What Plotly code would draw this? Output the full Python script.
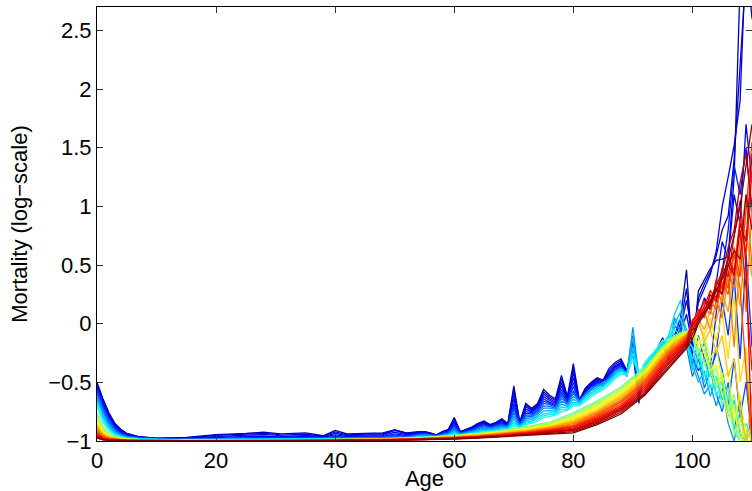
import plotly.graph_objects as go

# ---------------- data ----------------
AGES_J = [0, 1, 2, 3, 4, 5, 7, 10, 15, 20, 25, 28, 30, 31, 35, 38, 40, 42, 45, 48, 50, 52] + list(range(54, 111))
AGES_S = [0, 1, 2, 3, 4, 5, 7, 10, 15, 20, 30, 40, 50, 55, 60, 64, 68, 72, 76, 80,
          84, 88, 92, 95, 97, 99, 100, 101, 102, 103, 104, 105, 106, 107, 108, 109, 110]

# early (jagged) curves, blue -> cyan
B1 = [-0.50, -0.64, -0.76, -0.85, -0.90, -0.935, -0.962, -0.976, -0.970, -0.945, -0.935, -0.925, -0.935, -0.94, -0.93, -0.955, -0.91, -0.94, -0.935, -0.93, -0.905, -0.93,
      -0.92, -0.92, -0.93, -0.95, -0.92, -0.90, -0.80, -0.92, -0.90, -0.88,
      -0.85, -0.83, -0.86, -0.84, -0.81, -0.85, -0.53, -0.84, -0.68, -0.72,
      -0.68, -0.56, -0.61, -0.64, -0.44, -0.62, -0.34, -0.65, -0.55, -0.50,
      -0.46, -0.48, -0.38, -0.33, -0.30, -0.40, -0.15, -0.66, -0.38, -0.30,
      -0.22, -0.12, -0.25, -0.10, 0.05, 0.46, -0.26, 0.28, 0.38, 0.47,
      0.54, 0.55, 0.57, 1.25, 2.9, 3.4, 3.2]
B1b = [-0.51, -0.65, -0.77, -0.855, -0.905, -0.938, -0.964, -0.977, -0.973, -0.952, -0.942, -0.935, -0.942, -0.95, -0.942, -0.958, -0.922, -0.948, -0.942, -0.938, -0.905, -0.935,
       -0.925, -0.922, -0.932, -0.95, -0.922, -0.905, -0.81, -0.922, -0.902, -0.885,
       -0.855, -0.838, -0.865, -0.845, -0.818, -0.855, -0.56, -0.845, -0.695, -0.73,
       -0.69, -0.58, -0.625, -0.655, -0.47, -0.63, -0.38, -0.655, -0.56, -0.51,
       -0.47, -0.49, -0.40, -0.345, -0.315, -0.41, -0.12, -0.62, -0.39, -0.31,
       -0.235, -0.14, -0.26, -0.11, 0.00, 0.30, -0.20, 0.22, 0.34, 0.44,
       0.58, 0.80, 0.92, 1.40, 2.3, 3.0, 2.8]
B2 = [-0.52, -0.66, -0.78, -0.86, -0.91, -0.94, -0.966, -0.978, -0.975, -0.960, -0.950, -0.945, -0.950, -0.96, -0.955, -0.96, -0.935, -0.955, -0.95, -0.945, -0.91, -0.94,
      -0.93, -0.925, -0.935, -0.95, -0.925, -0.91, -0.83, -0.925, -0.905, -0.89,
      -0.86, -0.845, -0.87, -0.85, -0.825, -0.86, -0.60, -0.85, -0.71, -0.74,
      -0.70, -0.60, -0.64, -0.67, -0.50, -0.64, -0.42, -0.66, -0.57, -0.52,
      -0.48, -0.50, -0.42, -0.36, -0.33, -0.42, -0.20, -0.55, -0.40, -0.32,
      -0.25, -0.16, -0.28, -0.12, -0.05, 0.20, -0.10, 0.18, 0.30, 0.42,
      0.62, 1.00, 1.25, 1.52, 1.90, 3.2, 2.6]
B2b = [-0.535, -0.675, -0.79, -0.87, -0.918, -0.945, -0.968, -0.979, -0.979, -0.968, -0.961, -0.958, -0.961, -0.966, -0.962, -0.966, -0.948, -0.962, -0.958, -0.954, -0.925, -0.948,
       -0.935, -0.93, -0.94, -0.952, -0.93, -0.915, -0.845, -0.928, -0.91, -0.895,
       -0.868, -0.852, -0.875, -0.858, -0.835, -0.865, -0.64, -0.855, -0.73, -0.75,
       -0.71, -0.62, -0.655, -0.68, -0.53, -0.65, -0.46, -0.665, -0.58, -0.53,
       -0.49, -0.51, -0.43, -0.37, -0.34, -0.425, -0.22, -0.62, -0.38, -0.31,
       -0.255, -0.17, -0.29, -0.13, -0.08, 0.08, -0.18, 0.05, 0.22, 0.12,
       0.35, 0.70, 0.55, 1.10, 0.85, 1.70, 1.20]
B3 = [-0.55, -0.69, -0.80, -0.88, -0.925, -0.95, -0.97, -0.98, -0.982, -0.975, -0.972, -0.97, -0.972, -0.972, -0.97, -0.972, -0.96, -0.968, -0.965, -0.962, -0.94, -0.955,
      -0.94, -0.935, -0.945, -0.955, -0.935, -0.92, -0.86, -0.93, -0.915, -0.90,
      -0.875, -0.86, -0.88, -0.865, -0.845, -0.87, -0.68, -0.86, -0.75, -0.76,
      -0.72, -0.64, -0.67, -0.69, -0.56, -0.66, -0.50, -0.67, -0.59, -0.54,
      -0.50, -0.52, -0.44, -0.38, -0.35, -0.43, -0.25, -0.68, -0.36, -0.30,
      -0.26, -0.18, -0.30, -0.15, -0.10, -0.05, -0.28, -0.40, -0.30, -0.38,
      0.10, 0.45, 0.80, 1.35, 1.10, 1.50, 0.90]
B3b = [-0.565, -0.705, -0.815, -0.89, -0.932, -0.955, -0.972, -0.981, -0.983, -0.978, -0.976, -0.974, -0.975, -0.975, -0.973, -0.974, -0.965, -0.971, -0.968, -0.966, -0.95, -0.96,
       -0.942, -0.938, -0.948, -0.956, -0.938, -0.925, -0.87, -0.932, -0.918, -0.905,
       -0.88, -0.865, -0.882, -0.87, -0.852, -0.872, -0.71, -0.862, -0.765, -0.77,
       -0.735, -0.66, -0.68, -0.70, -0.585, -0.67, -0.535, -0.665, -0.60, -0.55,
       -0.51, -0.525, -0.45, -0.39, -0.36, -0.44, -0.20, -0.50, -0.37, -0.31,
       -0.26, -0.19, -0.29, -0.14, -0.09, -0.10, -0.22, -0.30, -0.15, -0.40,
       -0.25, 0.20, -0.10, 0.40, -0.30, 0.60, -0.20]
B4 = [-0.58, -0.72, -0.83, -0.90, -0.94, -0.96, -0.975, -0.983, -0.985, -0.982, -0.98, -0.978, -0.978, -0.978, -0.976, -0.976, -0.97, -0.974, -0.972, -0.97, -0.958, -0.965,
      -0.945, -0.94, -0.95, -0.958, -0.94, -0.93, -0.88, -0.935, -0.92, -0.91,
      -0.885, -0.87, -0.885, -0.875, -0.86, -0.875, -0.73, -0.865, -0.78, -0.78,
      -0.745, -0.68, -0.69, -0.71, -0.61, -0.68, -0.57, -0.66, -0.61, -0.56,
      -0.52, -0.53, -0.46, -0.40, -0.37, -0.45, -0.18, -0.58, -0.38, -0.32,
      -0.27, -0.20, -0.28, -0.12, -0.08, -0.15, -0.35, -0.10, -0.30, -0.45,
      -0.20, -0.40, -0.70, -0.30, -0.80, -0.50, -1.00]
LB2 = [-0.60, -0.74, -0.845, -0.91, -0.945, -0.963, -0.977, -0.984, -0.986, -0.984, -0.982, -0.98, -0.98, -0.98, -0.979, -0.978, -0.974, -0.977, -0.975, -0.973, -0.964, -0.968,
       -0.95, -0.945, -0.952, -0.959, -0.945, -0.935, -0.895, -0.938, -0.925, -0.915,
       -0.895, -0.88, -0.89, -0.882, -0.868, -0.878, -0.76, -0.868, -0.795, -0.79,
       -0.758, -0.70, -0.705, -0.72, -0.635, -0.685, -0.595, -0.66, -0.605, -0.555,
       -0.525, -0.515, -0.465, -0.405, -0.375, -0.435, -0.10, -0.52, -0.365, -0.30,
       -0.245, -0.17, -0.25, -0.02, -0.05, -0.20, -0.45, -0.30, -0.55, -0.40,
       -0.60, -0.75, -0.50, -0.90, -0.65, -1.00, -0.80]
LB = [-0.62, -0.76, -0.86, -0.92, -0.95, -0.967, -0.978, -0.985, -0.987, -0.985, -0.984, -0.983, -0.983, -0.983, -0.982, -0.981, -0.978, -0.98, -0.978, -0.976, -0.97, -0.972,
      -0.955, -0.95, -0.955, -0.96, -0.95, -0.94, -0.91, -0.94, -0.93, -0.92,
      -0.905, -0.89, -0.895, -0.89, -0.875, -0.88, -0.79, -0.87, -0.81, -0.80,
      -0.77, -0.72, -0.72, -0.73, -0.66, -0.69, -0.62, -0.66, -0.60, -0.55,
      -0.53, -0.50, -0.47, -0.41, -0.38, -0.42, -0.03, -0.46, -0.35, -0.28,
      -0.22, -0.14, -0.22, 0.05, -0.08, -0.12, -0.30, -0.45, -0.60, -0.52,
      -0.70, -0.55, -0.85, -1.00, -0.75, -1.00, -1.00]
C1b = [-0.64, -0.78, -0.875, -0.93, -0.955, -0.97, -0.98, -0.986, -0.988, -0.987, -0.986, -0.985, -0.985, -0.985, -0.984, -0.983, -0.981, -0.982, -0.98, -0.979, -0.974, -0.975,
       -0.958, -0.955, -0.958, -0.962, -0.954, -0.945, -0.92, -0.944, -0.935, -0.925,
       -0.912, -0.90, -0.902, -0.898, -0.885, -0.888, -0.815, -0.875, -0.825, -0.815,
       -0.785, -0.745, -0.74, -0.745, -0.685, -0.705, -0.645, -0.67, -0.615, -0.57,
       -0.545, -0.515, -0.48, -0.425, -0.39, -0.425, -0.12, -0.45, -0.355, -0.29,
       -0.225, -0.16, -0.16, 0.00, 0.10, -0.05, -0.35, -0.50, -0.40, -0.62,
       -0.45, -0.65, -0.55, -0.90, -0.80, -1.00, -1.00]
C1 = [-0.66, -0.80, -0.89, -0.94, -0.96, -0.973, -0.982, -0.987, -0.989, -0.988, -0.987, -0.986, -0.986, -0.986, -0.985, -0.985, -0.983, -0.984, -0.982, -0.981, -0.977, -0.978,
      -0.962, -0.96, -0.962, -0.965, -0.958, -0.95, -0.93, -0.948, -0.94, -0.93,
      -0.92, -0.91, -0.91, -0.905, -0.895, -0.895, -0.84, -0.88, -0.84, -0.83,
      -0.80, -0.77, -0.76, -0.76, -0.71, -0.72, -0.67, -0.68, -0.63, -0.59,
      -0.56, -0.53, -0.49, -0.44, -0.40, -0.43, -0.20, -0.46, -0.36, -0.30,
      -0.23, -0.18, -0.10, 0.08, 0.20, -0.15, -0.40, -0.25, -0.50, -0.35,
      -0.55, -0.48, -0.80, -0.65, -0.95, -1.00, -0.90]
C2b = [-0.68, -0.82, -0.90, -0.945, -0.964, -0.976, -0.984, -0.988, -0.99, -0.989, -0.988, -0.988, -0.988, -0.988, -0.987, -0.987, -0.985, -0.986, -0.984, -0.983, -0.98, -0.98,
       -0.965, -0.963, -0.964, -0.967, -0.96, -0.954, -0.938, -0.952, -0.944, -0.935,
       -0.926, -0.918, -0.916, -0.91, -0.901, -0.90, -0.855, -0.885, -0.85, -0.84,
       -0.815, -0.785, -0.775, -0.77, -0.73, -0.73, -0.685, -0.69, -0.645, -0.605,
       -0.575, -0.545, -0.505, -0.455, -0.415, -0.435, -0.25, -0.45, -0.345, -0.285,
       -0.225, -0.155, -0.12, -0.02, 0.05, -0.18, -0.30, -0.20, -0.45, -0.35,
       -0.62, -0.50, -0.75, -0.70, -1.00, -0.90, -1.00]
C2 = [-0.70, -0.84, -0.91, -0.95, -0.968, -0.978, -0.985, -0.989, -0.99, -0.99, -0.989, -0.989, -0.989, -0.989, -0.988, -0.988, -0.987, -0.987, -0.986, -0.985, -0.982, -0.982,
      -0.968, -0.966, -0.966, -0.968, -0.963, -0.958, -0.945, -0.955, -0.948, -0.94,
      -0.932, -0.925, -0.922, -0.915, -0.907, -0.905, -0.87, -0.89, -0.86, -0.85,
      -0.83, -0.80, -0.79, -0.78, -0.75, -0.74, -0.70, -0.70, -0.66, -0.62,
      -0.59, -0.56, -0.52, -0.47, -0.43, -0.44, -0.30, -0.44, -0.33, -0.27,
      -0.21, -0.14, -0.15, -0.05, -0.10, -0.12, -0.20, -0.38, -0.30, -0.55,
      -0.45, -0.70, -0.60, -0.92, -1.00, -0.85, -1.00]

# later (smooth) curves, green -> dark red
G = [-0.76, -0.88, -0.935, -0.96, -0.972, -0.98, -0.987, -0.991, -0.992, -0.991,
     -0.991, -0.989, -0.978, -0.97, -0.952, -0.935, -0.91, -0.88, -0.84, -0.76,
     -0.66, -0.54, -0.37, -0.19, -0.10, -0.06,
     -0.12, -0.30, -0.22, -0.45, -0.38, -0.62, -0.55, -0.85, -1.0, -1.0, -1.0]
G2 = [-0.78, -0.89, -0.942, -0.964, -0.975, -0.982, -0.988, -0.992, -0.993, -0.992,
      -0.992, -0.99, -0.979, -0.971, -0.954, -0.938, -0.915, -0.885, -0.848, -0.775,
      -0.675, -0.555, -0.385, -0.20, -0.11, -0.065,
      -0.10, -0.25, -0.15, -0.40, -0.55, -0.42, -0.75, -0.60, -0.90, -1.0, -0.85]
YG = [-0.80, -0.905, -0.95, -0.968, -0.978, -0.984, -0.989, -0.992, -0.993, -0.992,
      -0.992, -0.99, -0.98, -0.972, -0.956, -0.94, -0.92, -0.89, -0.855, -0.79,
      -0.69, -0.57, -0.40, -0.21, -0.12, -0.07,
      -0.08, -0.20, -0.35, -0.30, -0.50, -0.45, -0.70, -0.95, -0.80, -1.0, -1.0]
Y2 = [-0.82, -0.915, -0.955, -0.971, -0.98, -0.986, -0.99, -0.993, -0.994, -0.993,
      -0.993, -0.991, -0.981, -0.974, -0.958, -0.943, -0.923, -0.895, -0.862, -0.80,
      -0.70, -0.58, -0.41, -0.22, -0.13, -0.075,
      -0.06, -0.18, -0.10, -0.30, -0.20, -0.50, -0.40, -0.85, -0.60, -1.0, -1.0]
Y = [-0.84, -0.925, -0.96, -0.974, -0.982, -0.987, -0.991, -0.993, -0.994, -0.993,
     -0.993, -0.991, -0.982, -0.975, -0.96, -0.945, -0.925, -0.90, -0.87, -0.81,
     -0.71, -0.59, -0.42, -0.23, -0.14, -0.08,
     -0.05, -0.12, -0.25, -0.40, -0.35, -0.60, -0.80, -0.70, -1.0, -0.90, -1.0]
YO2 = [-0.855, -0.932, -0.963, -0.977, -0.984, -0.988, -0.992, -0.994, -0.995, -0.994,
       -0.994, -0.992, -0.983, -0.976, -0.962, -0.948, -0.928, -0.905, -0.875, -0.82,
       -0.725, -0.605, -0.435, -0.245, -0.15, -0.085,
       -0.04, 0.00, -0.10, 0.05, -0.15, 0.10, -0.30, 0.25, -0.50, -0.20, -1.0]
YO = [-0.87, -0.94, -0.967, -0.979, -0.985, -0.989, -0.992, -0.994, -0.995, -0.994,
      -0.994, -0.992, -0.984, -0.977, -0.964, -0.95, -0.93, -0.91, -0.88, -0.83,
      -0.74, -0.62, -0.45, -0.26, -0.16, -0.09,
      -0.03, 0.02, -0.15, -0.05, -0.25, -0.10, -0.45, -0.30, -0.75, -1.0, -0.6]
O2 = [-0.885, -0.948, -0.97, -0.981, -0.987, -0.99, -0.993, -0.995, -0.996, -0.995,
      -0.995, -0.993, -0.985, -0.978, -0.966, -0.952, -0.935, -0.915, -0.885, -0.84,
      -0.75, -0.635, -0.465, -0.275, -0.175, -0.095,
      -0.02, 0.04, -0.05, 0.12, 0.02, 0.25, 0.10, 0.50, 0.15, 0.80, 0.40]
O = [-0.90, -0.955, -0.974, -0.983, -0.988, -0.991, -0.993, -0.995, -0.996, -0.995,
     -0.995, -0.993, -0.986, -0.979, -0.968, -0.955, -0.94, -0.92, -0.89, -0.85,
     -0.76, -0.65, -0.48, -0.29, -0.19, -0.10,
     -0.02, 0.05, 0.10, -0.05, 0.20, 0.05, 0.40, -0.20, 0.60, 0.10, 1.0]
OR2 = [-0.91, -0.96, -0.977, -0.985, -0.989, -0.992, -0.994, -0.996, -0.997, -0.996,
       -0.996, -0.994, -0.987, -0.98, -0.97, -0.958, -0.943, -0.922, -0.895, -0.86,
       -0.77, -0.66, -0.49, -0.30, -0.20, -0.11,
       0.01, 0.06, 0.14, 0.08, 0.30, 0.18, 0.45, 0.30, 0.70, 1.10, 0.50]
OR = [-0.92, -0.965, -0.979, -0.986, -0.99, -0.992, -0.994, -0.996, -0.997, -0.996,
      -0.996, -0.994, -0.987, -0.981, -0.971, -0.96, -0.945, -0.925, -0.90, -0.87,
      -0.78, -0.67, -0.50, -0.31, -0.21, -0.12,
      0.00, 0.08, 0.05, 0.20, 0.12, 0.35, 0.25, 0.60, 0.30, -0.40, -1.0]
R5 = [-0.93, -0.97, -0.982, -0.988, -0.991, -0.993, -0.995, -0.997, -0.997, -0.997,
      -0.997, -0.995, -0.988, -0.982, -0.973, -0.962, -0.948, -0.928, -0.905, -0.875,
      -0.79, -0.685, -0.515, -0.325, -0.22, -0.13,
      0.01, 0.12, 0.06, 0.25, 0.18, 0.42, 0.30, 0.65, 0.40, 0.95, 1.55]
R1 = [-0.94, -0.975, -0.984, -0.989, -0.992, -0.994, -0.995, -0.997, -0.997, -0.997,
      -0.997, -0.995, -0.989, -0.983, -0.974, -0.963, -0.95, -0.93, -0.91, -0.88,
      -0.80, -0.70, -0.53, -0.34, -0.23, -0.14,
      0.02, 0.10, 0.18, 0.15, 0.35, 0.30, 0.55, 0.45, 0.90, 0.60, 1.3]
R6 = [-0.948, -0.978, -0.986, -0.99, -0.993, -0.994, -0.996, -0.997, -0.998, -0.998,
      -0.998, -0.996, -0.99, -0.984, -0.976, -0.965, -0.953, -0.935, -0.915, -0.89,
      -0.81, -0.71, -0.545, -0.355, -0.245, -0.15,
      0.03, 0.08, 0.20, 0.12, 0.38, 0.25, 0.60, 0.40, 0.80, 0.30, -0.40]
R2 = [-0.955, -0.98, -0.988, -0.992, -0.994, -0.995, -0.996, -0.997, -0.998, -0.998,
      -0.998, -0.996, -0.99, -0.985, -0.977, -0.967, -0.955, -0.94, -0.92, -0.90,
      -0.82, -0.72, -0.56, -0.37, -0.26, -0.16,
      0.00, 0.05, 0.15, 0.28, 0.22, 0.48, 0.40, 0.75, 1.05, 0.50, -1.0]
R7 = [-0.96, -0.982, -0.99, -0.993, -0.995, -0.996, -0.997, -0.998, -0.998, -0.998,
      -0.998, -0.997, -0.991, -0.986, -0.978, -0.968, -0.957, -0.942, -0.925, -0.905,
      -0.83, -0.73, -0.575, -0.385, -0.275, -0.17,
      -0.02, 0.06, 0.10, 0.25, 0.20, 0.38, 0.50, 0.42, 0.85, 0.70, 1.45]
R3 = [-0.965, -0.985, -0.991, -0.994, -0.995, -0.996, -0.997, -0.998, -0.998, -0.998,
      -0.998, -0.997, -0.992, -0.987, -0.98, -0.97, -0.96, -0.945, -0.93, -0.91,
      -0.84, -0.74, -0.59, -0.40, -0.29, -0.18,
      -0.05, 0.03, 0.12, 0.20, 0.32, 0.45, 0.65, 0.80, 1.20, 1.45, 1.0]
R8 = [-0.97, -0.988, -0.993, -0.995, -0.996, -0.997, -0.998, -0.998, -0.999, -0.999,
      -0.999, -0.998, -0.993, -0.988, -0.982, -0.972, -0.962, -0.948, -0.935, -0.92,
      -0.85, -0.755, -0.60, -0.42, -0.31, -0.195,
      -0.09, 0.02, 0.10, 0.15, 0.30, 0.25, 0.50, 0.62, 0.55, 1.10, 0.80]
R4 = [-0.975, -0.99, -0.994, -0.996, -0.997, -0.997, -0.998, -0.998, -0.999, -0.999,
      -0.999, -0.998, -0.993, -0.989, -0.983, -0.975, -0.965, -0.95, -0.94, -0.93,
      -0.86, -0.77, -0.61, -0.44, -0.33, -0.21,
      -0.13, 0.00, 0.08, 0.18, 0.28, 0.40, 0.55, 0.75, 1.00, 1.35, 1.70]

JAGGED_SERIES = [B1, B1b, B2, B2b, B3, B3b, B4, LB2, LB, C1b, C1, C2b, C2]
SMOOTH_SERIES = [G, G2, YG, Y2, Y, YO2, YO, O2, O, OR2, OR, R5, R1, R6, R2, R7, R3, R8, R4]

X_TICKS = [0, 20, 40, 60, 80, 100]
Y_TICKS = [-1, -0.5, 0, 0.5, 1, 1.5, 2, 2.5]

# ---------------- style ----------------
JAGGED_SHADES = [0.05, 0.075, 0.10, 0.125, 0.15, 0.175, 0.20, 0.235, 0.27, 0.30, 0.33, 0.37, 0.40]
SMOOTH_SHADES = [0.48, 0.52, 0.56, 0.60, 0.63, 0.66, 0.69, 0.72, 0.75, 0.77, 0.80,
                 0.82, 0.85, 0.875, 0.90, 0.925, 0.95, 0.975, 1.0]


def jet(t):
    def c(v):
        return max(0.0, min(1.0, v))
    r = c(1.5 - abs(4 * t - 3))
    g = c(1.5 - abs(4 * t - 2))
    b = c(1.5 - abs(4 * t - 1))
    return f"rgb({round(255 * r)},{round(255 * g)},{round(255 * b)})"


fig = go.Figure()
for vals, t in zip(JAGGED_SERIES, JAGGED_SHADES):
    fig.add_trace(go.Scatter(x=AGES_J, y=vals, mode="lines",
                             line=dict(color=jet(t), width=1.3), hoverinfo="skip"))
for vals, t in zip(SMOOTH_SERIES, SMOOTH_SHADES):
    fig.add_trace(go.Scatter(x=AGES_S, y=vals, mode="lines",
                             line=dict(color=jet(t), width=1.3), hoverinfo="skip"))

FONT = "Liberation Sans, Arial, Helvetica, sans-serif"
axis_common = dict(showline=True, linecolor="black", linewidth=1, mirror="ticks",
                   ticks="inside", ticklen=6, tickcolor="#333333", tickwidth=1,
                   showgrid=False, zeroline=False,
                   tickfont=dict(family=FONT, size=22, color="black"))

fig.update_layout(
    width=752, height=491,
    margin=dict(l=97, r=0, t=7, b=50),
    paper_bgcolor="white", plot_bgcolor="white",
    showlegend=False,
    font=dict(family=FONT, size=22, color="black"),
    xaxis=dict(range=[0, 110], tickvals=X_TICKS,
               title=dict(text="Age", font=dict(family=FONT, size=22, color="black"), standoff=2),
               **axis_common),
    yaxis=dict(range=[-1, 2.7], tickvals=Y_TICKS,
               title=dict(text="Mortality (log\u2212scale)", font=dict(family=FONT, size=22, color="black"), standoff=14),
               **axis_common),
)

fig.write_html("out.html")
